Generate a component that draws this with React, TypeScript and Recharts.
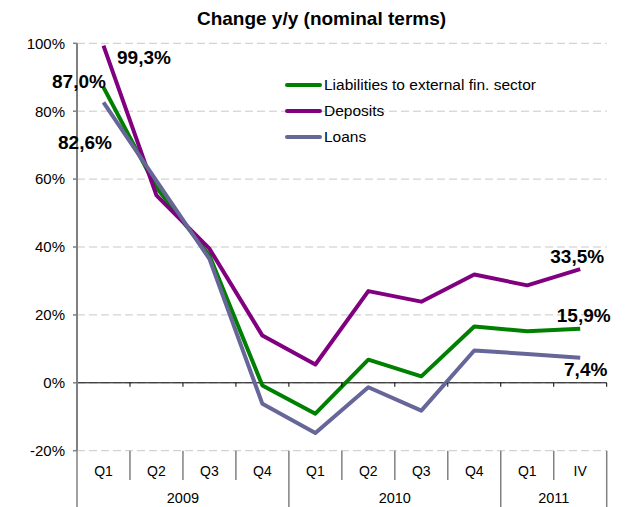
import {
  LineChart,
  Line,
  XAxis,
  YAxis,
  CartesianGrid,
  ReferenceLine,
  Legend,
  LabelList,
} from "recharts";

// --- data ---
const QUARTERS = ["Q1", "Q2", "Q3", "Q4", "Q1", "Q2", "Q3", "Q4", "Q1", "IV"];
const YEARS = ["2009", "2010", "2011"];
const YEAR_SPANS = [4, 4, 2]; // how many quarters each year covers
const LIABILITIES = [87.0, 57.5, 37.5, -0.8, -9.1, 6.8, 1.9, 16.6, 15.2, 15.9];
const DEPOSITS = [99.3, 55.2, 39.5, 13.9, 5.4, 27.0, 23.9, 31.9, 28.7, 33.5];
const LOANS = [82.6, 59.5, 36.5, -6.2, -14.8, -1.3, -8.2, 9.5, 8.5, 7.4];
const Y_TICKS = [-20, 0, 20, 40, 60, 80, 100];
const SERIES_ORDER = ["liabilities", "deposits", "loans"];

// --- layout ---
const W = 627;
const H = 507;
const PLOT_LEFT = 77;
const PLOT_RIGHT = 606.7;
const PLOT_TOP = 43.3;
const PLOT_BOTTOM = 450.7;
const STEP = (PLOT_RIGHT - PLOT_LEFT) / QUARTERS.length;
const ZERO_Y = PLOT_TOP + ((PLOT_BOTTOM - PLOT_TOP) * 100) / 120;
const FONT = '"Liberation Sans", Arial, sans-serif';
const GREY = "#808080";

// index of the first quarter of each year -> year index
const yearStarts: Record<number, number> = {};
let pos = 0;
YEAR_SPANS.forEach((span, i) => {
  yearStarts[pos] = i;
  pos += span;
});

const data = QUARTERS.map((q, i) => ({
  id: `p${i}`,
  q,
  liabilities: LIABILITIES[i],
  deposits: DEPOSITS[i],
  loans: LOANS[i],
}));

const fmt = (v: number) => `${v.toFixed(1).replace(".", ",")}%`;

// offsets of the first / last value labels from their points
const LABEL_POS: Record<string, { first: [number, number]; last: [number, number] }> = {
  liabilities: { first: [-24.5, -6], last: [3.5, -13] },
  deposits: { first: [40.5, 12], last: [-3, -12.5] },
  loans: { first: [-18.5, 40], last: [5.5, 12] },
};

const endLabel = (key: string) => (props: any) => {
  const { x, y, value, index } = props;
  const last = data.length - 1;
  if (index !== 0 && index !== last) return null;
  const [dx, dy] = index === 0 ? LABEL_POS[key].first : LABEL_POS[key].last;
  return (
    <text
      x={x + dx}
      y={y + dy}
      textAnchor="middle"
      dominantBaseline="central"
      fontFamily={FONT}
      fontSize={19}
      fontWeight="bold"
      fill="#000"
    >
      {fmt(value)}
    </text>
  );
};

// category axis: quarter labels, dividers, year labels and the ticks on the zero line
const CategoryTick = (props: any) => {
  const { x } = props;
  const index = props.index ?? props.payload?.index ?? 0;
  const left = x - STEP / 2;
  const right = x + STEP / 2;
  const isYearStart = yearStarts[index] !== undefined;
  const isLast = index === QUARTERS.length - 1;
  return (
    <g>
      <line
        x1={left}
        x2={left}
        y1={PLOT_BOTTOM}
        y2={isYearStart ? H : 480}
        stroke={GREY}
        strokeWidth={1.5}
      />
      {isLast && (
        <line x1={right} x2={right} y1={PLOT_BOTTOM} y2={H} stroke={GREY} strokeWidth={1.5} />
      )}
      {index > 0 && (
        <line x1={left} x2={left} y1={ZERO_Y} y2={ZERO_Y + 4} stroke="#000" strokeWidth={1} />
      )}
      {isLast && (
        <line x1={right} x2={right} y1={ZERO_Y} y2={ZERO_Y + 4} stroke="#000" strokeWidth={1} />
      )}
      <text
        x={x}
        y={471}
        textAnchor="middle"
        dominantBaseline="central"
        fontFamily={FONT}
        fontSize={14}
        fill="#000"
      >
        {QUARTERS[index]}
      </text>
      {isYearStart && (
        <text
          x={left + (YEAR_SPANS[yearStarts[index]] * STEP) / 2}
          y={498}
          textAnchor="middle"
          dominantBaseline="central"
          fontFamily={FONT}
          fontSize={14.5}
          fill="#000"
        >
          {YEARS[yearStarts[index]]}
        </text>
      )}
    </g>
  );
};

const LegendContent = (props: any) => {
  const items = [...(props.payload || [])].sort(
    (a: any, b: any) => SERIES_ORDER.indexOf(a.dataKey) - SERIES_ORDER.indexOf(b.dataKey)
  );
  return (
    <div style={{ fontFamily: FONT, fontSize: 15.5, color: "#000" }}>
      {items.map((entry: any) => (
        <div key={entry.value} style={{ display: "flex", alignItems: "center", height: 26 }}>
          <span
            style={{
              display: "inline-block",
              width: 37,
              height: 4,
              borderRadius: 2,
              background: entry.color,
              marginRight: 2,
            }}
          />
          <span style={{ whiteSpace: "nowrap" }}>{entry.value}</span>
        </div>
      ))}
    </div>
  );
};

export default function App() {
  return (
    <div style={{ position: "absolute", left: 0, top: 0, width: W, height: H, background: "#fff" }}>
      <div
        style={{
          position: "absolute",
          left: 0,
          width: 643,
          top: 8.4,
          textAlign: "center",
          fontFamily: FONT,
          fontSize: 19,
          fontWeight: "bold",
          lineHeight: "22px",
          zIndex: 2,
        }}
      >
        Change y/y (nominal terms)
      </div>
      <LineChart
        width={W}
        height={H}
        data={data}
        margin={{ top: PLOT_TOP, right: W - PLOT_RIGHT, left: 7, bottom: H - PLOT_BOTTOM - 56 }}
      >
        <CartesianGrid vertical={false} stroke="#c8c8c8" strokeDasharray="8 4" />
        <XAxis
          dataKey="id"
          height={56}
          axisLine={false}
          tickLine={false}
          interval={0}
          padding={{ left: STEP / 2, right: STEP / 2 }}
          tick={(p: any) => <CategoryTick {...p} />}
        />
        <YAxis
          width={70}
          domain={[-20, 100]}
          ticks={Y_TICKS}
          interval={0}
          tickFormatter={(v) => `${v}%`}
          axisLine={{ stroke: GREY, strokeWidth: 2 }}
          tickLine={{ stroke: GREY, strokeWidth: 1.5 }}
          tickSize={4}
          tickMargin={8}
          tick={{ fill: "#000", fontSize: 15, fontFamily: FONT }}
        />
        <ReferenceLine y={0} stroke="#000" strokeWidth={1} />
        <Legend
          layout="vertical"
          verticalAlign="middle"
          align="center"
          content={<LegendContent />}
          wrapperStyle={{ left: 285, top: 72, width: 300 }}
        />
        <Line
          name="Liabilities to external fin. sector"
          dataKey="liabilities"
          stroke="#008000"
          strokeWidth={4}
          strokeLinejoin="round"
          dot={false}
          activeDot={false}
          isAnimationActive={false}
        >
          <LabelList dataKey="liabilities" content={endLabel("liabilities")} />
        </Line>
        <Line
          name="Deposits"
          dataKey="deposits"
          stroke="#800080"
          strokeWidth={4}
          strokeLinejoin="round"
          dot={false}
          activeDot={false}
          isAnimationActive={false}
        >
          <LabelList dataKey="deposits" content={endLabel("deposits")} />
        </Line>
        <Line
          name="Loans"
          dataKey="loans"
          stroke="#666699"
          strokeWidth={4}
          strokeLinejoin="round"
          dot={false}
          activeDot={false}
          isAnimationActive={false}
        >
          <LabelList dataKey="loans" content={endLabel("loans")} />
        </Line>
      </LineChart>
    </div>
  );
}
